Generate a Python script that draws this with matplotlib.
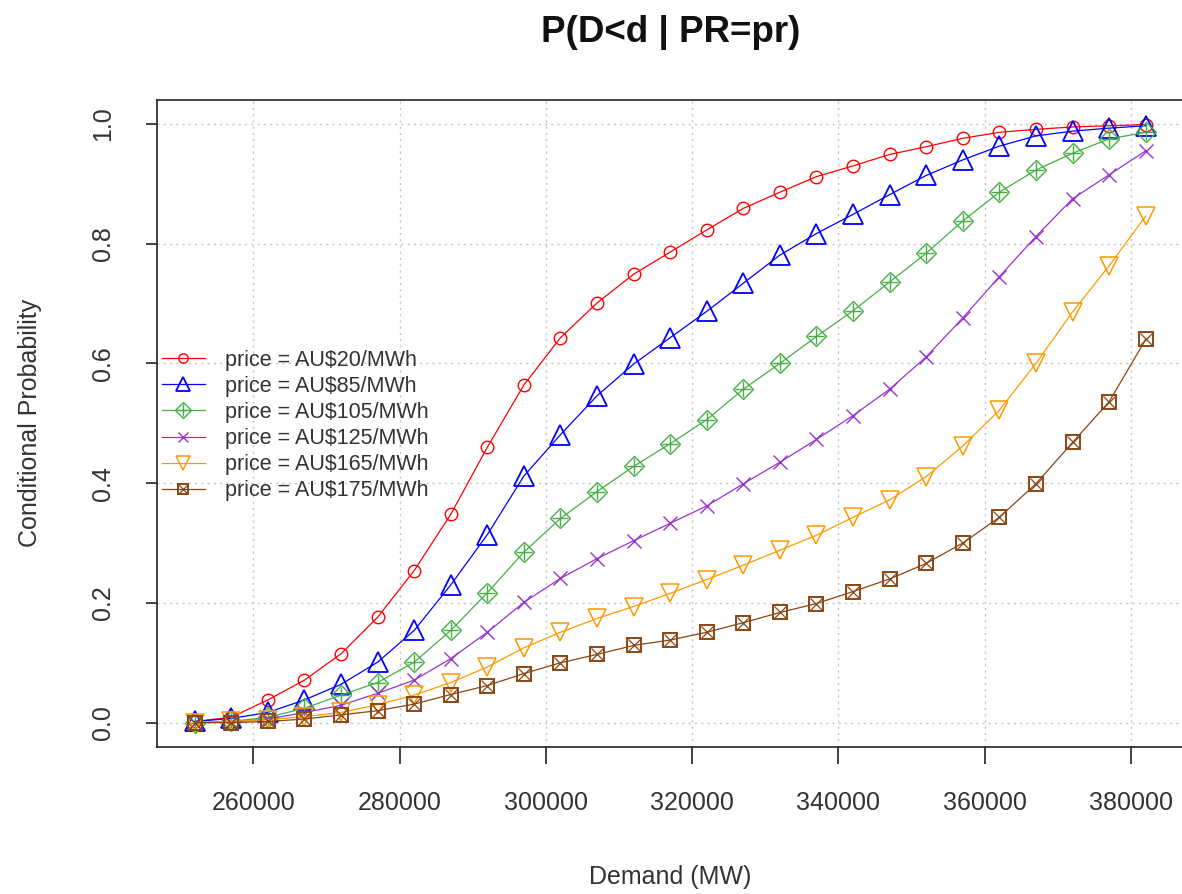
import matplotlib
matplotlib.use('Agg')
import matplotlib.pyplot as plt

demand = [252000, 257000, 262000, 267000, 272000, 277000, 282000, 287000, 292000,
          297000, 302000, 307000, 312000, 317000, 322000, 327000, 332000, 337000,
          342000, 347000, 352000, 357000, 362000, 367000, 372000, 377000, 382000]

p20 = [0.002, 0.009, 0.038, 0.071, 0.115, 0.176, 0.254, 0.348, 0.460, 0.564, 0.643, 0.701,
       0.749, 0.786, 0.823, 0.859, 0.886, 0.912, 0.930, 0.949, 0.962, 0.976, 0.986, 0.991,
       0.995, 0.997, 0.999]
p85 = [0.002, 0.007, 0.017, 0.038, 0.064, 0.101, 0.154, 0.230, 0.314, 0.412, 0.481, 0.546,
       0.599, 0.643, 0.687, 0.734, 0.781, 0.817, 0.849, 0.882, 0.914, 0.940, 0.963, 0.980,
       0.988, 0.993, 0.997]
p105 = [0.000, 0.002, 0.009, 0.024, 0.046, 0.067, 0.101, 0.154, 0.217, 0.285, 0.341, 0.386,
        0.428, 0.466, 0.506, 0.557, 0.600, 0.645, 0.688, 0.736, 0.784, 0.838, 0.886, 0.923,
        0.951, 0.975, 0.986]
p125 = [0.000, 0.001, 0.006, 0.017, 0.029, 0.049, 0.071, 0.107, 0.151, 0.201, 0.241, 0.274,
        0.304, 0.333, 0.362, 0.399, 0.435, 0.473, 0.513, 0.557, 0.611, 0.676, 0.745, 0.812,
        0.875, 0.915, 0.955]
p165 = [0.000, 0.002, 0.005, 0.010, 0.017, 0.030, 0.046, 0.067, 0.093, 0.125, 0.151, 0.174,
        0.194, 0.216, 0.239, 0.263, 0.288, 0.313, 0.343, 0.372, 0.411, 0.462, 0.522, 0.600,
        0.686, 0.763, 0.846]
p175 = [0.000, 0.000, 0.002, 0.006, 0.013, 0.020, 0.031, 0.047, 0.062, 0.082, 0.100, 0.114,
        0.129, 0.138, 0.151, 0.167, 0.184, 0.199, 0.219, 0.240, 0.266, 0.300, 0.343, 0.399,
        0.468, 0.536, 0.640]

labels = ["price = AU$20/MWh", "price = AU$85/MWh", "price = AU$105/MWh",
          "price = AU$125/MWh", "price = AU$165/MWh", "price = AU$175/MWh"]
xticks = [260000, 280000, 300000, 320000, 340000, 360000, 380000]
yticks = [0.0, 0.2, 0.4, 0.6, 0.8, 1.0]
ytick_labels = ["0.0", "0.2", "0.4", "0.6", "0.8", "1.0"]

plt.rcParams['font.family'] = ['Liberation Sans', 'DejaVu Sans']

W, H = 1182, 894
fig = plt.figure(figsize=(W / 100, H / 100), dpi=100)
left, right, top, bottom = 156.7, 1183.7, 100.0, 746.6
ax = fig.add_axes([left / W, 1 - bottom / H, (right - left) / W, (bottom - top) / H])

c_red, c_blue, c_green = '#FF0000', '#0000FF', '#44B044'
c_purple, c_orange, c_brown = '#9933CC', '#FF9900', '#8B4513'
lw = 0.9
mew = 1.0

h1, = ax.plot(demand, p20, color=c_red, lw=lw, marker='o', ms=9, mfc='none', mew=mew)
h2, = ax.plot(demand, p85, color=c_blue, lw=lw, marker='^', ms=14, mfc='none', mew=mew * 1.3)
h3a, = ax.plot(demand, p105, color=c_green, lw=lw, marker='D', ms=10.5, mfc='none', mew=mew)
h3b, = ax.plot(demand, p105, color=c_green, lw=0, marker='+', ms=11, mew=mew)
h4, = ax.plot(demand, p125, color=c_purple, lw=lw, marker='x', ms=10.5, mew=mew)
h5, = ax.plot(demand, p165, color=c_orange, lw=lw, marker='v', ms=13.5, mfc='none', mew=mew * 1.1)
h6a, = ax.plot(demand, p175, color=c_brown, lw=lw, marker='s', ms=10, mfc='none', mew=mew * 1.4)
h6b, = ax.plot(demand, p175, color=c_brown, lw=0, marker='x', ms=9, mew=mew * 0.9)

ax.set_xlim(246800, 387200)
ax.set_ylim(-0.04, 1.04)
ax.set_xticks(xticks)
ax.set_xticklabels([str(v) for v in xticks])
ax.set_yticks(yticks)
ax.set_yticklabels(ytick_labels, rotation=90, va='center')

ax.grid(True, color='#C4C4C4', linestyle=(0, (1.5, 3)), linewidth=1.0)
ax.set_axisbelow(True)

for sp in ax.spines.values():
    sp.set_linewidth(1.2)
    sp.set_color('#222222')

ax.tick_params(axis='x', length=12, width=1.2, pad=20, labelsize=18, colors='#222222',
               labelcolor='#333333')
ax.tick_params(axis='y', length=8, width=1.2, pad=22, labelsize=18, colors='#222222',
               labelcolor='#333333')

fig.suptitle("P(D<d | PR=pr)", x=(left + right) / 2 / W, y=1 - 32 / H, va='center',
             fontsize=26.5, fontweight='bold', color='#111111')
fig.text((left + right) / 2 / W, 1 - 877 / H, "Demand (MW)", ha='center', va='center',
         fontsize=18, color='#333333')
fig.text(30 / W, 1 - (top + bottom) / 2 / H, "Conditional Probability", ha='center',
         va='center', rotation=90, fontsize=18, color='#333333')

leg = ax.legend([h1, h2, (h3a, h3b), h4, h5, (h6a, h6b)], labels,
                loc='upper left', bbox_to_anchor=(0.005, 0.614), frameon=False,
                fontsize=15.5, handlelength=2.0, handletextpad=0.95, labelspacing=0.24,
                borderpad=0, borderaxespad=0, markerscale=0.75)
for t in leg.get_texts():
    t.set_color('#333333')

fig.savefig('out.png', dpi=100)
